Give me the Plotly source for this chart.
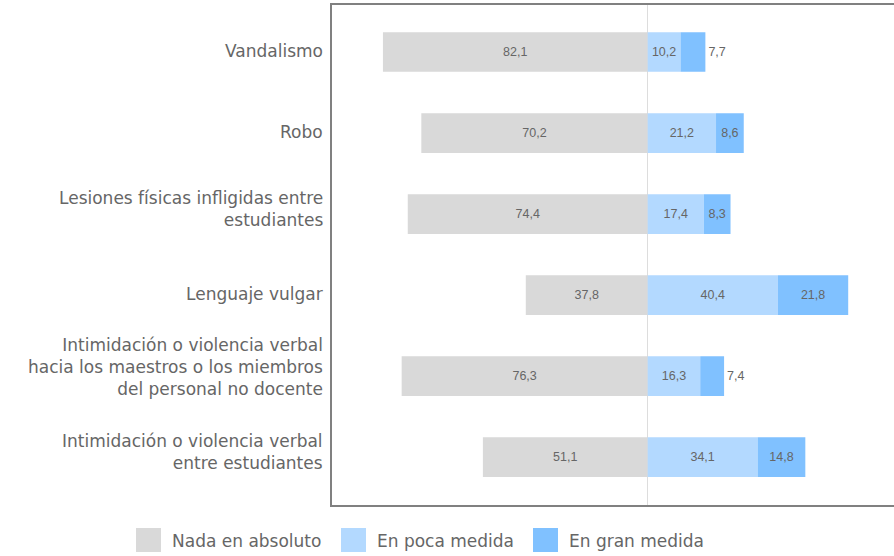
import plotly.graph_objects as go

# Survey categories (top to bottom) and the share of each answer, in percent
categorias = [
    "Vandalismo",
    "Robo",
    "Lesiones físicas infligidas entre<br>estudiantes",
    "Lenguaje vulgar",
    "Intimidación o violencia verbal<br>hacia los maestros o los miembros<br>del personal no docente",
    "Intimidación o violencia verbal<br>entre estudiantes",
]
nada = [82.1, 70.2, 74.4, 37.8, 76.3, 51.1]
poca = [10.2, 21.2, 17.4, 40.4, 16.3, 34.1]
gran = [7.7, 8.6, 8.3, 21.8, 7.4, 14.8]

series = ["Nada en absoluto", "En poca medida", "En gran medida"]
colores = ["#d9d9d9", "#b3d9ff", "#80c1ff"]

# Narrow segments get their value printed just outside the bar
pos_gran = ["outside" if v < 8 else "inside" for v in gran]

FONT = "DejaVu Sans"
TXT = "#666666"
BAR_FONT = dict(size=12.5, color=TXT, family="Liberation Sans")


def etiqueta(v):
    return f"{v:.1f}".replace(".", ",")


fig = go.Figure()
fig.add_trace(go.Bar(
    y=categorias, x=[-v for v in nada], orientation="h", name=series[0],
    marker=dict(color=colores[0], line=dict(width=0)),
    text=[etiqueta(v) for v in nada], textposition="inside",
    insidetextanchor="middle", textfont=BAR_FONT,
    width=0.49, showlegend=False, hoverinfo="skip",
))
fig.add_trace(go.Bar(
    y=categorias, x=poca, orientation="h", name=series[1],
    marker=dict(color=colores[1], line=dict(width=0)),
    text=[etiqueta(v) for v in poca], textposition="inside",
    insidetextanchor="middle", textfont=BAR_FONT,
    width=0.49, showlegend=False, hoverinfo="skip",
))
fig.add_trace(go.Bar(
    y=categorias, x=gran, orientation="h", name=series[2],
    marker=dict(color=colores[2], line=dict(width=0)),
    text=[etiqueta(v) for v in gran], textposition=pos_gran,
    insidetextanchor="middle", textfont=BAR_FONT,
    outsidetextfont=BAR_FONT,
    constraintext="none", cliponaxis=False,
    width=0.49, showlegend=False, hoverinfo="skip",
))

W, H = 894, 556
ML, MR, MT, MB = 332, 0, 5, 51
PW, PH = W - ML - MR, H - MT - MB


def px_x(p):
    return (p - ML) / PW


def px_y(p):
    return (H - MB - p) / PH


annotations = []

# Category labels, right-aligned against the left edge of the plot;
# multi-line labels sit a little above the bar centre
for cat in categorias:
    lineas = cat.count("<br>") + 1
    annotations.append(dict(
        xref="paper", yref="y", x=0, y=cat,
        xanchor="right", yanchor="middle", align="right",
        xshift=-7, yshift=1 + 4 * (lineas - 1),
        showarrow=False, text=cat,
        font=dict(family=FONT, size=17, color=TXT),
    ))

# Legend drawn as swatches plus labels below the plot area
leyenda_x = [136, 341, 533]
shapes = []
for x0, nombre, col in zip(leyenda_x, series, colores):
    shapes.append(dict(
        type="rect", xref="paper", yref="paper",
        x0=px_x(x0), x1=px_x(x0 + 25), y0=px_y(552), y1=px_y(528),
        fillcolor=col, line=dict(width=0),
    ))
    annotations.append(dict(
        xref="paper", yref="paper", x=px_x(x0 + 34), y=px_y(540.5),
        xanchor="left", yanchor="middle", showarrow=False,
        text=nombre, font=dict(family=FONT, size=17, color=TXT),
    ))

n = len(categorias)
fig.update_layout(
    width=W, height=H,
    margin=dict(l=ML, r=MR, t=MT, b=MB, pad=0),
    paper_bgcolor="white", plot_bgcolor="white",
    barmode="relative",
    showlegend=False,
    shapes=shapes,
    annotations=annotations,
    xaxis=dict(
        range=[-97.9, 76.4], showgrid=False, showticklabels=False, ticks="",
        zeroline=True, zerolinecolor="#dddddd", zerolinewidth=1,
        showline=True, mirror=True, linecolor="#808080", linewidth=1.5,
    ),
    yaxis=dict(
        range=[n - 0.41, -0.58], showgrid=False, ticks="",
        showticklabels=False,
        showline=True, linecolor="#808080", linewidth=1.5,
    ),
)

fig.write_html("out.html")
